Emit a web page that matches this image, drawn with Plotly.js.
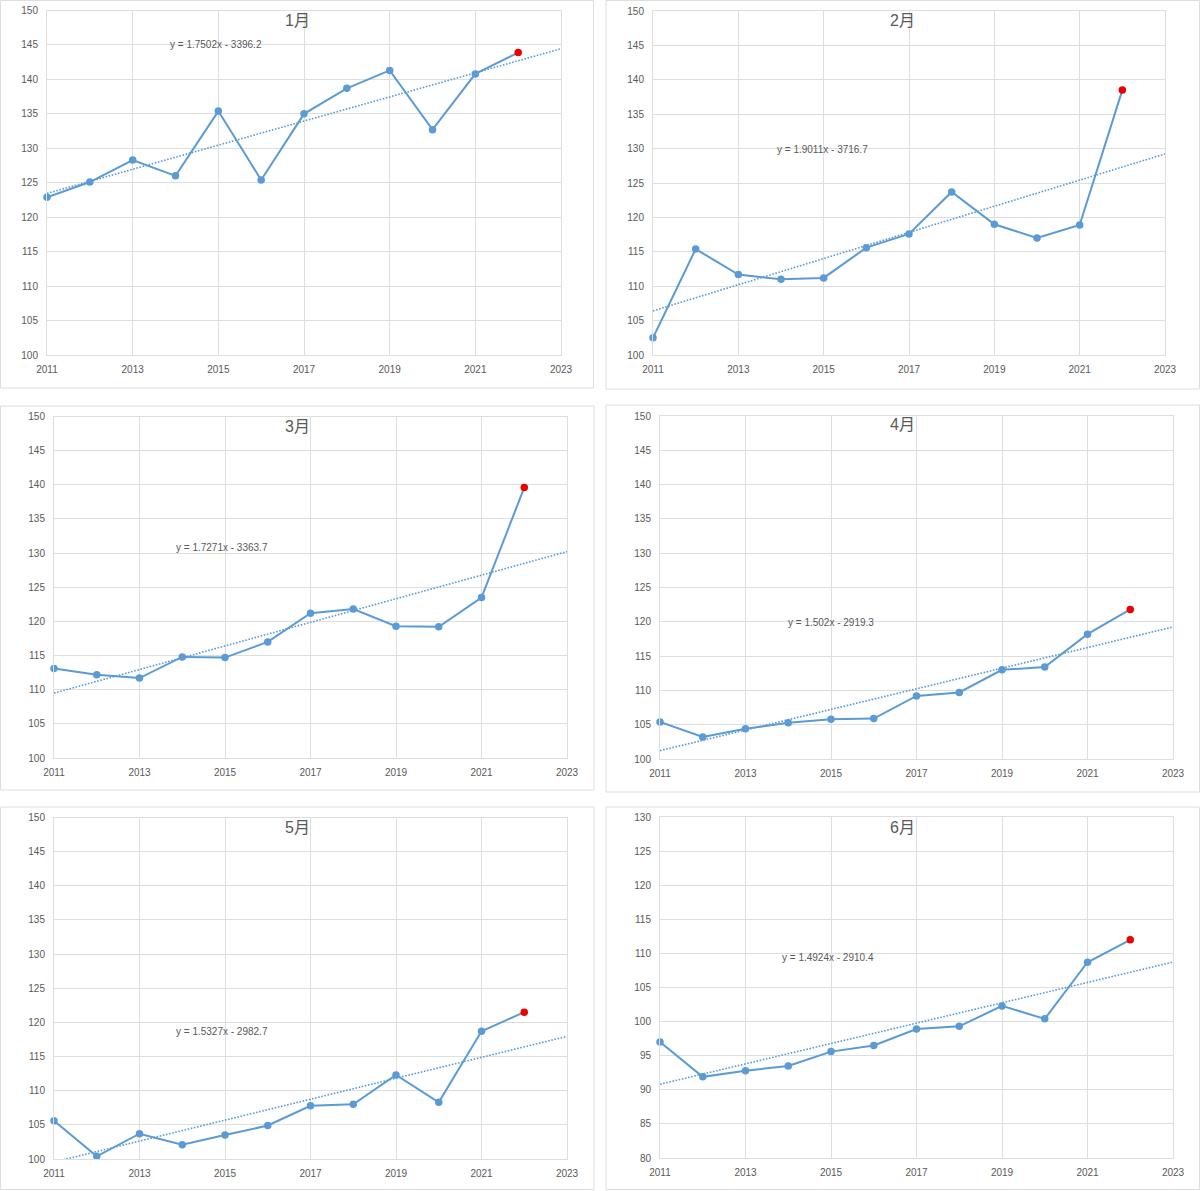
<!DOCTYPE html>
<html>
<head>
<meta charset="utf-8">
<script src="https://cdn.plot.ly/plotly-3.0.1.min.js"></script>
<style>
  body { margin: 0; background: #fff; }
  #chart { width: 1200px; height: 1191px; }
</style>
</head>
<body>
<div id="chart"></div>
<script>
// values, 2011..2022 (the last one is drawn red)
var years = [2011, 2012, 2013, 2014, 2015, 2016, 2017, 2018, 2019, 2020, 2021, 2022];
var jan = [122.9, 125.1, 128.3, 126.0, 135.4, 125.4, 135.0, 138.7, 141.3, 132.7, 140.8, 143.9];
var feb = [102.5, 115.4, 111.7, 111.0, 111.2, 115.6, 117.6, 123.7, 119.0, 117.0, 118.9, 138.5];
var mar = [113.1, 112.2, 111.7, 114.8, 114.7, 117.0, 121.2, 121.8, 119.3, 119.2, 123.5, 139.6];
var apr = [105.4, 103.2, 104.4, 105.3, 105.8, 105.9, 109.2, 109.7, 113.0, 113.4, 118.2, 121.8];
var may = [105.6, 100.4, 103.7, 102.1, 103.5, 104.9, 107.8, 108.0, 112.3, 108.3, 118.7, 121.5];
var jun = [97.0, 91.9, 92.8, 93.5, 95.6, 96.5, 98.9, 99.3, 102.3, 100.4, 108.7, 112.0];

var months = ['1月', '2月', '3月', '4月', '5月', '6月'];
var series = [jan, feb, mar, apr, may, jun];

// linear trendlines as printed on the charts
var slopes = [1.7502, 1.9011, 1.7271, 1.502, 1.5327, 1.4924];
var intercepts = [-3396.2, -3716.7, -3363.7, -2919.3, -2982.7, -2910.4];
var trendYears = [2011, 2023];

var yRanges = [[100, 150], [100, 150], [100, 150], [100, 150], [100, 150], [80, 130]];
var xRange = [2011, 2023];

// panel geometry in pixels: outer box, plot area, equation position
var W = 1200, H = 1191;
var panels = [
  {box: [0.5, 0.5, 593.5, 388], plot: [47, 10.5, 561, 355], eq: [216, 45]},
  {box: [606, 0.5, 1199.5, 389], plot: [653, 11, 1165, 355], eq: [822, 150]},
  {box: [0.5, 406, 594, 790], plot: [54, 416.5, 567, 758], eq: [222, 547]},
  {box: [606, 405, 1199.5, 792], plot: [660, 416, 1173, 759], eq: [831, 622]},
  {box: [0.5, 807, 594, 1189.5], plot: [54, 817.5, 567, 1159], eq: [222, 1031]},
  {box: [606, 807, 1199.5, 1189.5], plot: [660, 817, 1173, 1158], eq: [828, 957]}
];

var blue = '#5b9bd5';
var red = '#ee0000';
var grey = '#595959';
var grid = '#dedede';
var font = 'Liberation Sans, Arial, Noto Sans CJK SC, sans-serif';

function px(x) { return x / W; }
function py(y) { return 1 - y / H; }

var data = [];
var layout = {
  width: W,
  height: H,
  margin: {l: 0, r: 0, t: 0, b: 0},
  paper_bgcolor: '#ffffff',
  plot_bgcolor: '#ffffff',
  showlegend: false,
  hovermode: false,
  font: {family: font, color: grey, size: 10},
  shapes: [],
  annotations: []
};

series.forEach(function (vals, i) {
  var n = i + 1;
  var xa = n === 1 ? 'x' : 'x' + n;
  var ya = n === 1 ? 'y' : 'y' + n;
  var p = panels[i];

  var trendVals = trendYears.map(function (t) { return slopes[i] * t + intercepts[i]; });
  data.push({
    x: trendYears,
    y: trendVals,
    xaxis: xa, yaxis: ya,
    type: 'scatter',
    mode: 'lines',
    line: {color: blue, width: 1.6, dash: '1.6px,1.6px'}
  });

  var colors = vals.map(function (v, k) { return k === vals.length - 1 ? red : blue; });
  data.push({
    x: years,
    y: vals,
    xaxis: xa, yaxis: ya,
    type: 'scatter',
    mode: 'lines+markers',
    cliponaxis: false,
    line: {color: blue, width: 2},
    marker: {color: colors, size: 7.5}
  });

  layout['xaxis' + (n === 1 ? '' : n)] = {
    domain: [px(p.plot[0]), px(p.plot[2])],
    anchor: ya,
    range: xRange,
    dtick: 2,
    tick0: 2011,
    showgrid: true,
    gridcolor: grid,
    gridwidth: 1,
    showline: true,
    linecolor: grid,
    linewidth: 1,
    mirror: true,
    zeroline: false,
    ticks: '',
    ticklabelstandoff: 5,
    tickfont: {family: font, color: grey, size: 10}
  };
  layout['yaxis' + (n === 1 ? '' : n)] = {
    domain: [py(p.plot[3]), py(p.plot[1])],
    anchor: xa,
    range: yRanges[i],
    dtick: 5,
    showgrid: true,
    gridcolor: grid,
    gridwidth: 1,
    showline: true,
    linecolor: grid,
    linewidth: 1,
    mirror: true,
    zeroline: false,
    ticks: '',
    ticklabelstandoff: 6,
    tickfont: {family: font, color: grey, size: 10}
  };

  layout.shapes.push({
    type: 'rect', xref: 'paper', yref: 'paper',
    x0: px(p.box[0]), x1: px(p.box[2]),
    y0: py(p.box[3]), y1: py(p.box[1]),
    line: {color: grid, width: 1},
    fillcolor: 'rgba(0,0,0,0)',
    layer: 'below'
  });

  layout.annotations.push({
    xref: 'paper', yref: 'paper',
    x: px((p.box[0] + p.box[2]) / 2),
    y: py(p.box[1] + 20),
    text: months[i],
    showarrow: false,
    xanchor: 'center', yanchor: 'middle',
    font: {family: font, color: grey, size: 16}
  });

  var b = -intercepts[i];
  layout.annotations.push({
    xref: 'paper', yref: 'paper',
    x: px(p.eq[0]),
    y: py(p.eq[1]),
    text: 'y = ' + slopes[i] + 'x - ' + b,
    showarrow: false,
    xanchor: 'center', yanchor: 'middle',
    font: {family: font, color: grey, size: 10}
  });
});

Plotly.newPlot('chart', data, layout, {displayModeBar: false, staticPlot: true});
</script>
</body>
</html>
